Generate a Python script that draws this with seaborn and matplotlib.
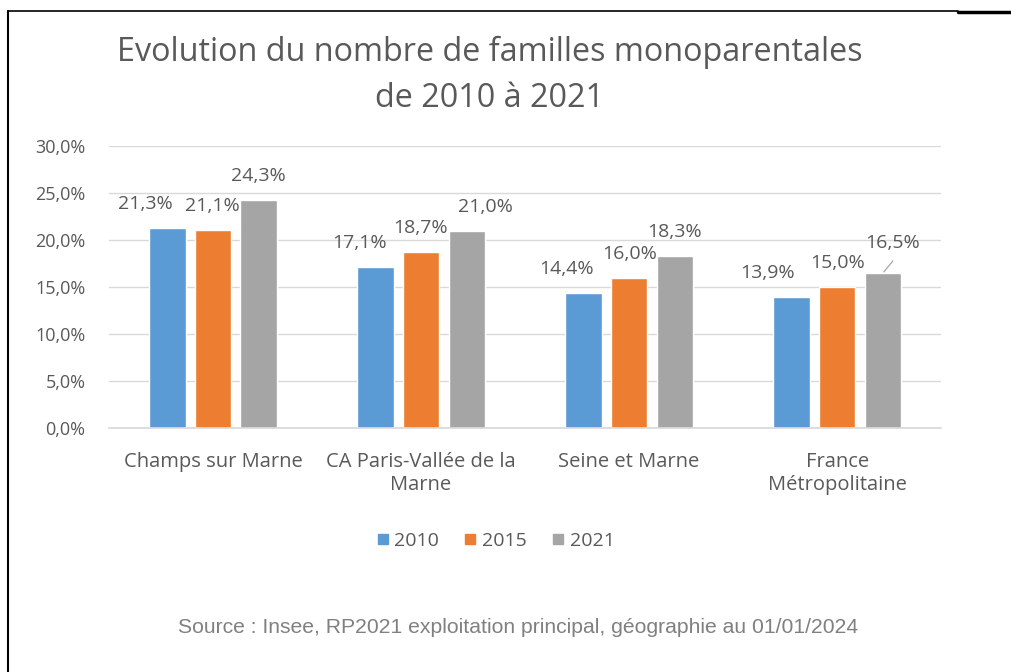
import pandas as pd
import seaborn as sns
import matplotlib.pyplot as plt
from matplotlib.lines import Line2D
from matplotlib.ticker import FuncFormatter

categories = ["Champs sur Marne", "CA Paris-Vallée de la\nMarne", "Seine et Marne", "France\nMétropolitaine"]
years = ["2010", "2015", "2021"]
values_2010 = [21.3, 17.1, 14.4, 13.9]
values_2015 = [21.1, 18.7, 16.0, 15.0]
values_2021 = [24.3, 21.0, 18.3, 16.5]
colors = ["#5B9BD5", "#ED7D31", "#A5A5A5"]

# horizontal nudges of the data labels (pixels), per year then per category,
# like Excel does to keep them from overlapping
label_dx = [[-22, -16, -17, -24], [-1, -1, 1, 0], [0, 19, 0, 10]]

TEXT = "#595959"
PX = 72 / 100  # pixels -> points at dpi 100

df = pd.DataFrame({
    "cat": categories * 3,
    "year": [y for y in years for _ in categories],
    "val": values_2010 + values_2015 + values_2021,
})

sns.set_theme(style="white")
plt.rcParams['font.family'] = ['Open Sans', 'DejaVu Sans']

fig = plt.figure(figsize=(10.12, 6.72), dpi=100)
ax = fig.add_axes([0.1077, 0.363, 0.8223, 0.4197])

sns.barplot(data=df, x="cat", y="val", hue="year", palette=colors,
            width=0.66, gap=0.2, ax=ax, legend=False, saturation=1)

ax.set_ylim(0, 30)
ax.set_yticks(range(0, 31, 5))
ax.yaxis.set_major_formatter(FuncFormatter(lambda v, p: f"{v:.1f}%".replace(".", ",")))
ax.grid(axis="y", color="#D9D9D9", linewidth=1)
ax.set_axisbelow(True)
for s in ["top", "right", "left"]:
    ax.spines[s].set_visible(False)
ax.spines["bottom"].set_color("#D9D9D9")
ax.tick_params(axis="both", length=0, colors=TEXT)
ax.tick_params(axis="y", labelsize=13, pad=17)
ax.tick_params(axis="x", labelsize=14.5, pad=17)
ax.set_xlabel("")
ax.set_ylabel("")

# data labels
for i, cont in enumerate(ax.containers):
    for j, bar in enumerate(cont):
        h = bar.get_height()
        xc = bar.get_x() + bar.get_width() / 2
        label = f"{h:.1f}%".replace(".", ",")
        dx = label_dx[i][j] * PX
        if abs(h - 16.5) < 1e-6:
            # label pushed up, with a leader line back to the bar
            ax.annotate(label, (xc, h), xytext=(dx, 30 * PX), textcoords="offset points",
                        ha="center", va="center", fontsize=14, color=TEXT)
            ax.annotate("", (xc, h), xytext=(10 * PX, 12 * PX), textcoords="offset points",
                        arrowprops=dict(arrowstyle="-", color="#A6A6A6", lw=0.9,
                                        shrinkA=0, shrinkB=1))
        else:
            ax.annotate(label, (xc, h), xytext=(dx, 24 * PX), textcoords="offset points",
                        ha="center", va="center", fontsize=14, color=TEXT)

handles = [Line2D([], [], marker="s", linestyle="", markersize=7, color=c) for c in colors]
fig.legend(handles, years, loc="center", bbox_to_anchor=(0.487, 0.195), ncol=3,
           frameon=False, fontsize=14, labelcolor=TEXT, handletextpad=0.0,
           columnspacing=1.0, handlelength=1.2)

fig.text(0.484, 0.8875, "Evolution du nombre de familles monoparentales\nde 2010 à 2021",
         ha="center", va="center", fontsize=23.3, color=TEXT, linespacing=1.5)

fig.text(0.5124, 0.0655, "Source : Insee, RP2021 exploitation principal, géographie au 01/01/2024",
         ha="center", va="center", fontsize=15.2, color="#808080", family="Liberation Sans")

# frame lines
fig.add_artist(Line2D([8 / 1012, 8 / 1012], [0, 1 - 11 / 672], color="black", lw=1.5,
                      transform=fig.transFigure))
fig.add_artist(Line2D([8 / 1012, 958 / 1012], [1 - 11 / 672, 1 - 11 / 672], color="black",
                      lw=1.2, transform=fig.transFigure))
fig.add_artist(Line2D([958 / 1012, 1], [1 - 12 / 672, 1 - 12 / 672], color="black",
                      lw=2.5, transform=fig.transFigure))

fig.savefig("out.png", dpi=100)
